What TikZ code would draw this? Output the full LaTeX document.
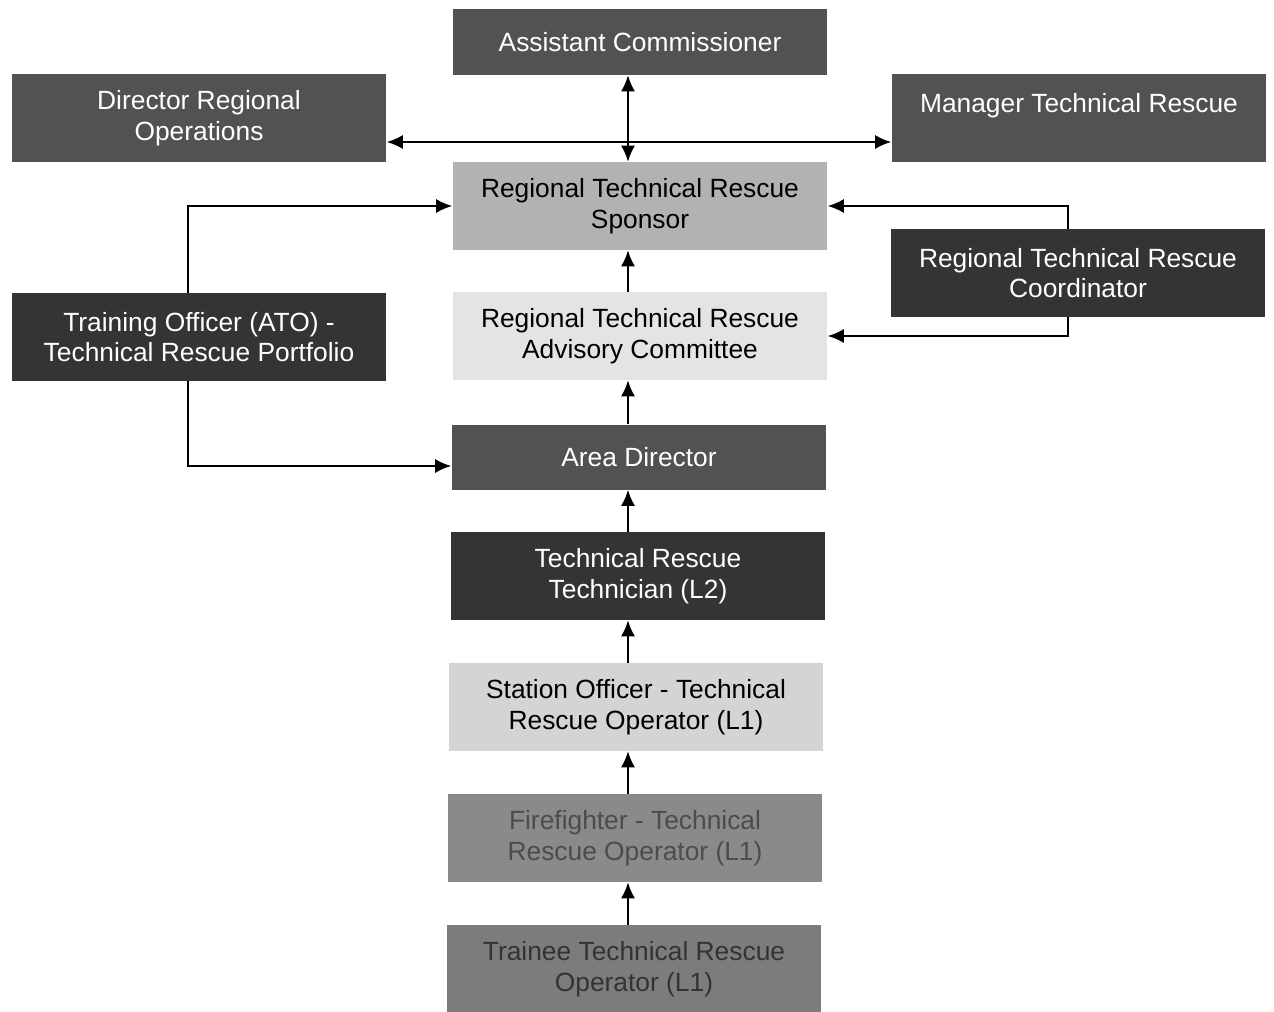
\documentclass[tikz,border=0pt]{standalone}
\usepackage{fontspec}
\setmainfont{Liberation Sans}
\usetikzlibrary{arrows.meta}
\definecolor{boxblack}{HTML}{343434}
\definecolor{boxdark}{HTML}{525252}
\definecolor{boxmid}{HTML}{8A8A8A}
\definecolor{boxgrey}{HTML}{7C7C7C}
\definecolor{boxlight}{HTML}{B2B2B2}
\definecolor{boxpale}{HTML}{D4D4D4}
\definecolor{boxwhite}{HTML}{E4E4E4}

\begin{document}
\begin{tikzpicture}[x=0.02cm, y=-0.02cm,
		box/.style={rectangle, minimum width=7.5cm, minimum height=1.76cm, align=center, inner sep=2pt, font=\fontsize{15}{17.5}\selectfont},
		arr/.style={line width=1pt, -{Latex[length=3.2mm, width=2.8mm]}},
		twoway/.style={line width=1pt, {Latex[length=3.2mm, width=2.8mm]}-{Latex[length=3.2mm, width=2.8mm]}}]
			%%%%% START %%%%%
			
			\useasboundingbox[fill=white] (0, 0) rectangle (1274, 1011);
			
			\node[box, fill=boxdark, text=white, minimum height=1.32cm] (ac) at (640, 42) {Assistant Commissioner};
			\node[box, fill=boxdark, text=white] (dro) at (199, 118) {Director Regional\\Operations};
			\node[box, fill=boxdark, text=white] (mtr) at (1079, 118) {Manager Technical Rescue\\\mbox{}};
			
			\node[box, fill=boxlight] (spon) at (640, 206) {Regional Technical Rescue\\Sponsor};
			\node[box, fill=boxblack, text=white] (rtc) at (1078, 273) {Regional Technical Rescue\\Coordinator};
			\node[box, fill=boxblack, text=white] (tro) at (199, 337) {Training Officer (ATO) -\\Technical Rescue Portfolio};
			\node[box, fill=boxwhite] (adv) at (640, 336) {Regional Technical Rescue\\Advisory Committee};
			
			\node[box, fill=boxdark, text=white, minimum height=1.3cm] (ad) at (639, 457) {Area Director};
			\node[box, fill=boxblack, text=white] (trt) at (638, 576) {Technical Rescue\\Technician (L2)};
			\node[box, fill=boxpale] (so) at (636, 707) {Station Officer - Technical\\Rescue Operator (L1)};
			\node[box, fill=boxmid, text=black!70] (ff) at (635, 838) {Firefighter - Technical\\Rescue Operator (L1)};
			\node[box, fill=boxgrey, text=black!80] (tto) at (634, 969) {Trainee Technical Rescue\\Operator (L1)};
			
			\coordinate (spine) at (628, 0);
			\coordinate (cross) at (0, 142);
			\coordinate (tx) at (188, 0);
			\coordinate (cx) at (1068, 0);
			
			\draw[twoway] (ac.south -| spine) -- (spon.north -| spine);
			\draw[twoway] (dro.east |- cross) -- (mtr.west |- cross);
			
			\draw[arr] (adv.north -| spine) -- (spon.south -| spine);
			\draw[arr] (ad.north -| spine) -- (adv.south -| spine);
			\draw[arr] (trt.north -| spine) -- (ad.south -| spine);
			\draw[arr] (so.north -| spine) -- (trt.south -| spine);
			\draw[arr] (ff.north -| spine) -- (so.south -| spine);
			\draw[arr] (tto.north -| spine) -- (ff.south -| spine);
			
			\draw[arr] (tro.north -| tx) |- (spon.west);
			\draw[arr] (tro.south -| tx) |- ([yshift=-0.18cm]ad.west);
			\draw[arr] (rtc.north -| cx) |- (spon.east);
			\draw[arr] (rtc.south -| cx) |- (adv.east);
			
			%%%%% END %%%%%
		\end{tikzpicture}
\end{document}
